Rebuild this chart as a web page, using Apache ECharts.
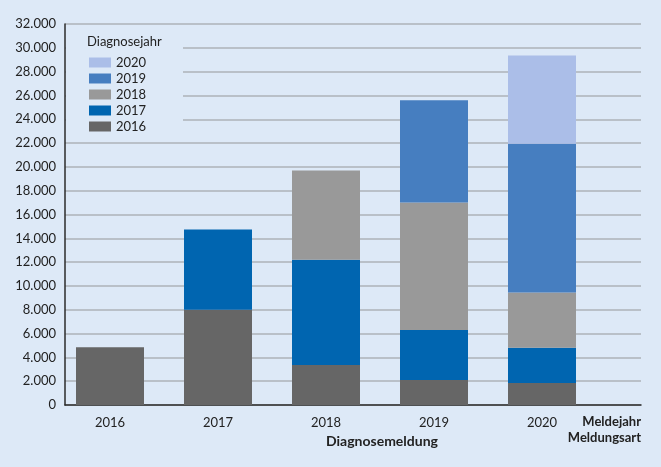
<!DOCTYPE html>
<html>
<head>
<meta charset="utf-8">
<script src="https://cdn.jsdelivr.net/npm/echarts@6/dist/echarts.min.js"></script>
<style>
html,body{margin:0;padding:0;background:#dde9f7;}
#c{width:661px;height:467px;}
</style>
</head>
<body>
<div id="c"></div>
<script>
// Meldejahr (reporting year) columns
var years = ['2016', '2017', '2018', '2019', '2020'];
// Segment values per Diagnosejahr (diagnosis year)
var dx2016 = [4850, 8000, 3350, 2100, 1850];
var dx2017 = [null, 6750, 8850, 4200, 2950];
var dx2018 = [null, null, 7500, 10700, 4650];
var dx2019 = [null, null, null, 8600, 12500];
var dx2020 = [null, null, null, null, 7400];
var yMin = 0, yMax = 32000, yStep = 2000;

var seriesDefs = [
  {name: '2016', data: dx2016, color: '#666666'},
  {name: '2017', data: dx2017, color: '#0065b0'},
  {name: '2018', data: dx2018, color: '#999999'},
  {name: '2019', data: dx2019, color: '#467ec0'},
  {name: '2020', data: dx2020, color: '#abbee8'}
];

var FONT = 'Lato';
var BG = '#dde9f7';
var chart = echarts.init(document.getElementById('c'));
chart.setOption({
  backgroundColor: BG,
  animation: false,
  textStyle: {fontFamily: FONT},
  grid: [
    // frame grid: axis lines, gridlines, y labels
    {left: 65, right: 20, top: 24, bottom: 62},
    // bar grid: 5 Meldejahr bands of equal width
    {left: 56, right: 65, top: 24, bottom: 62}
  ],
  xAxis: [
    {
      gridIndex: 0, type: 'value', min: 0, max: 1,
      splitLine: {show: false}, axisTick: {show: false}, axisLabel: {show: false},
      axisLine: {show: true, lineStyle: {color: '#2b2b2b', width: 1.5}}
    },
    {
      gridIndex: 1, type: 'category', data: years,
      axisLine: {show: false}, axisTick: {show: false},
      axisLabel: {color: '#222', fontSize: 13, fontFamily: FONT, margin: 11}
    }
  ],
  yAxis: [
    {
      gridIndex: 0, type: 'value', min: yMin, max: yMax, interval: yStep,
      axisLine: {show: true, lineStyle: {color: '#2b2b2b', width: 1.5}},
      axisTick: {show: false},
      splitLine: {show: true, lineStyle: {color: '#adb2b8', width: 1.5}},
      axisLabel: {
        color: '#222', fontSize: 13, fontFamily: FONT, margin: 9,
        formatter: function (v) { return v === 0 ? '0' : (v / 1000).toFixed(0) + '.000'; }
      }
    },
    {
      gridIndex: 1, type: 'value', min: yMin, max: yMax, interval: yStep,
      axisLine: {show: false}, axisTick: {show: false}, axisLabel: {show: false},
      splitLine: {show: false}
    }
  ],
  legend: {
    left: 84, top: 51,
    orient: 'vertical',
    icon: 'rect',
    itemWidth: 22, itemHeight: 10, itemGap: 3,
    data: ['2020', '2019', '2018', '2017', '2016'],
    textStyle: {color: '#222', fontSize: 13, fontFamily: FONT},
    selectedMode: false
  },
  graphic: [
    {type: 'rect', left: 66, top: 31, shape: {width: 117, height: 104}, style: {fill: BG}, z: 1},
    {type: 'text', left: 87, top: 35, z: 5, style: {text: 'Diagnosejahr', fill: '#222', font: '13px ' + FONT}},
    {type: 'text', left: 326, top: 434, z: 5, style: {text: 'Diagnosemeldung', fill: '#222', font: 'bold 14px ' + FONT, textAlign: 'center'}},
    {type: 'text', right: 20, top: 414, z: 5, style: {text: 'Meldejahr\nMeldungsart', fill: '#222', font: 'bold 13px ' + FONT, textAlign: 'right', lineHeight: 16}}
  ],
  series: seriesDefs.map(function (s) {
    return {
      name: s.name,
      type: 'bar',
      xAxisIndex: 1,
      yAxisIndex: 1,
      stack: 'total',
      barWidth: 68,
      itemStyle: {color: s.color},
      data: s.data
    };
  })
});
</script>
</body>
</html>
